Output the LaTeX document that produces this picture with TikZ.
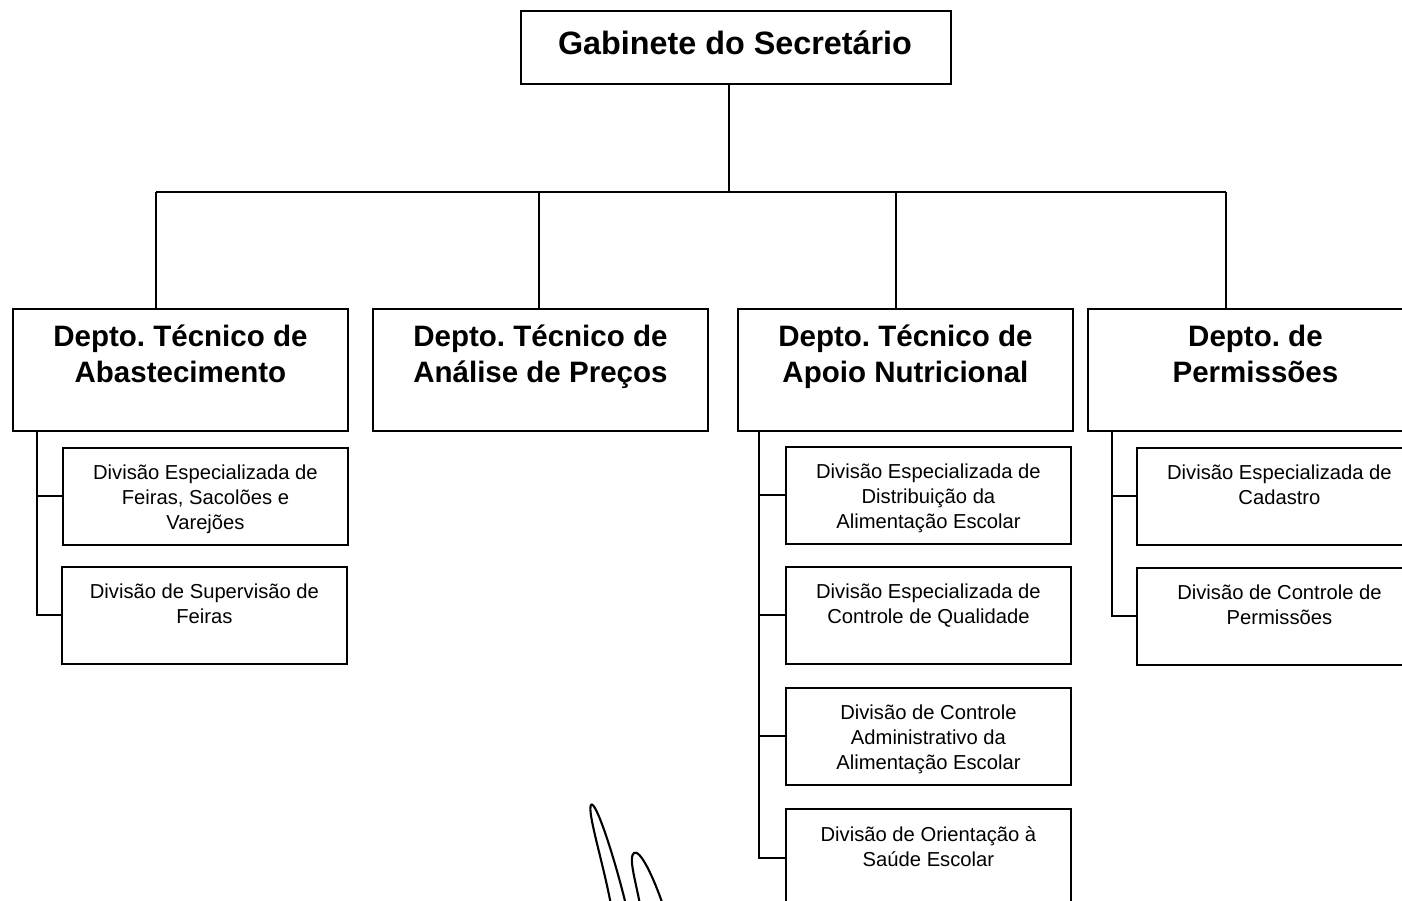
\documentclass[tikz,border=0pt]{standalone}
\usepackage{fontspec}
\setmainfont{Liberation Sans}
\usetikzlibrary{calc}
\frenchspacing
\begin{document}
\begin{tikzpicture}[x=0.02cm,y=-0.02cm,
  boxnode/.style={draw, line width=1.1pt, inner sep=0pt, anchor=north west},
  deptbox/.style={boxnode, minimum width=6.7cm, minimum height=2.44cm},
  subbox/.style={boxnode, minimum width=5.7cm, minimum height=1.94cm},
  ttltxt/.style={font=\bfseries\fontsize{18.4}{22}\selectfont, inner sep=0pt, anchor=base},
  depttxt/.style={font=\bfseries\fontsize{16.8}{20.4}\selectfont, align=center, inner sep=0pt, anchor=north},
  subtxt/.style={font=\fontsize{11.5}{14.2}\selectfont, align=center, inner sep=0pt, anchor=north},
  conn/.style={line width=1.1pt},
  pen/.style={line width=1.2pt}]
\useasboundingbox (0,0) rectangle (1402,901);
\clip (0,0) rectangle (1402,901);

% top
\node[boxnode, minimum width=8.6cm, minimum height=1.46cm] (gab) at (520,10) {};
\node[ttltxt] (gabT) at (735,55) {Gabinete do Secretário};

% departments
\node[deptbox] (abast) at (12,308) {};
\node[deptbox] (anal) at (372,308) {};
\node[deptbox] (apoio) at (737,308) {};
\node[deptbox] (perm) at (1087,308) {};
\node[depttxt] (abastT) at ($(abast.north)+(0,17)$) {Depto. Técnico de\\Abastecimento};
\node[depttxt] (analT) at ($(anal.north)+(0,17)$) {Depto. Técnico de\\Análise de Preços};
\node[depttxt] (apoioT) at ($(apoio.north)+(0,17)$) {Depto. Técnico de\\Apoio Nutricional};
\node[depttxt] (permT) at ($(perm.north)+(0,17)$) {Depto. de\\Permissões};

% sub boxes
\node[subbox] (a1) at (62,447) {};
\node[subbox] (a2) at (61,566) {};
\node[subbox] (n1) at (785,446) {};
\node[subbox] (n2) at (785,566) {};
\node[subbox] (n3) at (785,687) {};
\node[subbox] (n4) at (785,808) {};
\node[subbox] (p1) at (1136,447) {};
\node[subbox] (p2) at (1136,567) {};

\node[subtxt] (a1T) at ($(a1.north)+(0,18)$) {Divisão Especializada de\\Feiras, Sacolões e\\Varejões};
\node[subtxt] (a2T) at ($(a2.north)+(0,18)$) {Divisão de Supervisão de\\Feiras};
\node[subtxt] (n1T) at ($(n1.north)+(0,18)$) {Divisão Especializada de\\Distribuição da\\Alimentação Escolar};
\node[subtxt] (n2T) at ($(n2.north)+(0,18)$) {Divisão Especializada de\\Controle de Qualidade};
\node[subtxt] (n3T) at ($(n3.north)+(0,18)$) {Divisão de Controle\\Administrativo da\\Alimentação Escolar};
\node[subtxt] (n4T) at ($(n4.north)+(0,18)$) {Divisão de Orientação à\\Saúde Escolar};
\node[subtxt] (p1T) at ($(p1.north)+(0,18)$) {Divisão Especializada de\\Cadastro};
\node[subtxt] (p2T) at ($(p2.north)+(0,18)$) {Divisão de Controle de\\Permissões};

% connectors: top to bus
\coordinate (gx) at (729,0);
\coordinate (busL) at (156,192);
\coordinate (busR) at (1226,192);
\coordinate (bx2) at (539,192);
\coordinate (bx3) at (896,192);
\coordinate (bx4) at (1226,192);
\draw[conn] (gab.south -| gx) -- (gx |- busL);
\draw[conn] (busL) -- (busR);
\draw[conn] (busL) -- (busL |- abast.north);
\draw[conn] (bx2) -- (bx2 |- anal.north);
\draw[conn] (bx3) -- (bx3 |- apoio.north);
\draw[conn] (bx4) -- (bx4 |- perm.north);

% sub connectors
\coordinate (ax) at (37,0);
\coordinate (nx) at (759,0);
\coordinate (px) at (1112,0);
\draw[conn] (abast.south -| ax) |- (a2.west);
\draw[conn] (ax |- a1.west) -- (a1.west);
\draw[conn] (apoio.south -| nx) |- ($(n4.north west)+(0,50)$);
\draw[conn] (nx |- n1.west) -- (n1.west);
\draw[conn] (nx |- n2.west) -- (n2.west);
\draw[conn] (nx |- n3.west) -- (n3.west);
\draw[conn] (perm.south -| px) |- (p2.west);
\draw[conn] (px |- p1.west) -- (p1.west);

% pen marks
\draw[pen] (611,905) .. controls (603,862) and (587,812) .. (591,805) .. controls (595,799) and (613,852) .. (626,905);
\draw[pen] (640,905) .. controls (636,882) and (628,857) .. (634,853) .. controls (640,849) and (653,876) .. (663,905);
\end{tikzpicture}
\end{document}
